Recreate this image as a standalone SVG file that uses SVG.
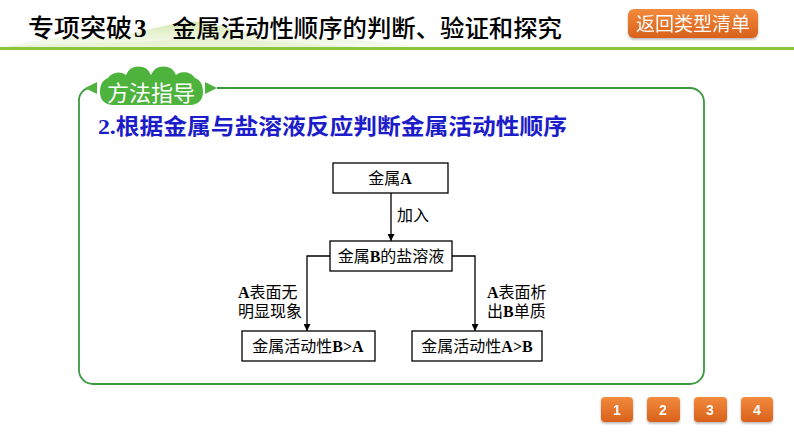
<svg xmlns="http://www.w3.org/2000/svg" width="794" height="447" viewBox="0 0 794 447">
<defs>
<linearGradient id="og" x1="0" y1="0" x2="0" y2="1"><stop offset="0" stop-color="#f28a3c"/><stop offset="1" stop-color="#d9611c"/></linearGradient>
<linearGradient id="hill" x1="0" y1="0" x2="0" y2="1"><stop offset="0" stop-color="#cfe6a6" stop-opacity="0.9"/><stop offset="1" stop-color="#f2f8e6" stop-opacity="0.6"/></linearGradient>
<marker id="ah" viewBox="0 0 10 10" refX="10" refY="5" markerWidth="7" markerHeight="7" markerUnits="userSpaceOnUse" orient="auto"><path d="M0,0 L10,5 L0,10 Z" fill="#000"/></marker>
<filter id="sh" x="-10%" y="-10%" width="120%" height="140%"><feDropShadow dx="0" dy="1.5" stdDeviation="1" flood-color="#000" flood-opacity="0.3"/></filter>
</defs>
<style>
.box{fill:#fff;stroke:#000;stroke-width:1.3}
.bt{font-family:"Liberation Serif","Noto Sans CJK SC",serif;font-size:16px;fill:#000;text-anchor:middle}
.lb{font-family:"Liberation Serif","Noto Sans CJK SC",serif;font-size:16px;fill:#000}
.b{font-weight:bold}
.conn{fill:none;stroke:#000;stroke-width:1.3}
.btn{fill:url(#og)}
.bn{font-family:"Liberation Sans","Noto Sans CJK SC",sans-serif;font-size:14px;fill:#fff;text-anchor:middle;font-weight:bold}
</style>
<rect width="794" height="447" fill="#fff"/>
<g id="header">
<path d="M0,47 C40,40 70,34 110,38 C150,30 180,20 200,22 C230,26 250,38 290,40 C330,36 370,40 420,47 Z" fill="url(#hill)"/>
<path d="M0,47 C60,42 120,44 170,40 C220,36 300,44 360,47 Z" fill="#e4f0cc" opacity="0.7"/>
<rect x="0" y="47" width="794" height="3" fill="#8cc63f"/>
<text x="28" y="37" font-family="'Noto Sans CJK SC',sans-serif" font-size="25" font-weight="500" fill="#000" textLength="104" lengthAdjust="spacingAndGlyphs">专项突破</text>
<text x="134" y="37" font-family="'Liberation Serif',serif" font-size="25" font-weight="bold" fill="#000">3</text>
<text x="172" y="37" font-family="'Noto Sans CJK SC',sans-serif" font-size="24" font-weight="500" fill="#000" textLength="390" lengthAdjust="spacingAndGlyphs">金属活动性顺序的判断、验证和探究</text>
</g>
<g id="btn-back" filter="url(#sh)">
<rect x="628" y="9" width="130" height="29" rx="6" class="btn"/>
<text x="693" y="31" font-family="'Noto Sans CJK SC',sans-serif" font-size="19" fill="#fff" text-anchor="middle">返回类型清单</text>
</g>
<g id="panel">
<path d="M217,88 L690,88 A14,14 0 0 1 704,102 L704,370 A14,14 0 0 1 690,384 L93,384 A14,14 0 0 1 79,370 L79,100 A12,12 0 0 1 91,88" fill="none" stroke="#3a9a40" stroke-width="1.8"/>
<path d="M85,88 L97,82 L97,94 Z" fill="#4db33d"/>
<path d="M217,88 L205,82 L205,94 Z" fill="#4db33d"/>
<path d="M100,92 C100,86 102,80 108,78 A13,13 0 0 1 126,75 A13.5,13.5 0 0 1 151,75 A13.5,13.5 0 0 1 176,75 A13,13 0 0 1 195,78 C201,80 203,86 203,92 C203,100 198,105 190,105 L113,105 C105,105 100,100 100,92 Z" fill="#4db33d"/>
<text x="151" y="101" font-family="'Noto Sans CJK SC',sans-serif" font-size="22" fill="#fff" text-anchor="middle">方法指导</text>
<text x="98" y="134" font-family="'Liberation Serif','Noto Sans CJK SC',serif" font-size="22" font-weight="bold" fill="#1c1cc8" textLength="469" lengthAdjust="spacingAndGlyphs">2.根据金属与盐溶液反应判断金属活动性顺序</text>
</g>
<g id="connectors">
<path class="conn" d="M391,193 L391,241" marker-end="url(#ah)"/>
<path class="conn" d="M330,256 L307,256 L307,331" marker-end="url(#ah)"/>
<path class="conn" d="M452,256 L475,256 L475,331" marker-end="url(#ah)"/>
<text class="lb" x="397" y="221">加入</text>
<text class="lb" x="238" y="298"><tspan class="b">A</tspan>表面无</text>
<text class="lb" x="238" y="317">明显现象</text>
<text class="lb" x="487" y="298"><tspan class="b">A</tspan>表面析</text>
<text class="lb" x="487" y="317">出<tspan class="b">B</tspan>单质</text>
</g>
<g id="nodeA"><rect class="box" x="333" y="163" width="115" height="30"/><text class="bt" x="390" y="184">金属<tspan class="b">A</tspan></text></g>
<g id="nodeB"><rect class="box" x="330" y="241" width="122" height="30"/><text class="bt" x="391" y="262">金属<tspan class="b">B</tspan>的盐溶液</text></g>
<g id="nodeL"><rect class="box" x="242" y="331" width="133" height="30"/><text class="bt" x="308" y="352">金属活动性<tspan class="b">B&gt;A</tspan></text></g>
<g id="nodeR"><rect class="box" x="412" y="331" width="130" height="30"/><text class="bt" x="477" y="352">金属活动性<tspan class="b">A&gt;B</tspan></text></g>
<g id="p1" filter="url(#sh)"><rect class="btn" x="601" y="397" width="32" height="25" rx="4"/><text class="bn" x="617" y="415">1</text></g>
<g id="p2" filter="url(#sh)"><rect class="btn" x="647" y="397" width="33" height="25" rx="4"/><text class="bn" x="663" y="415">2</text></g>
<g id="p3" filter="url(#sh)"><rect class="btn" x="694" y="397" width="33" height="25" rx="4"/><text class="bn" x="710" y="415">3</text></g>
<g id="p4" filter="url(#sh)"><rect class="btn" x="741" y="397" width="32" height="25" rx="4"/><text class="bn" x="757" y="415">4</text></g>
</svg>
